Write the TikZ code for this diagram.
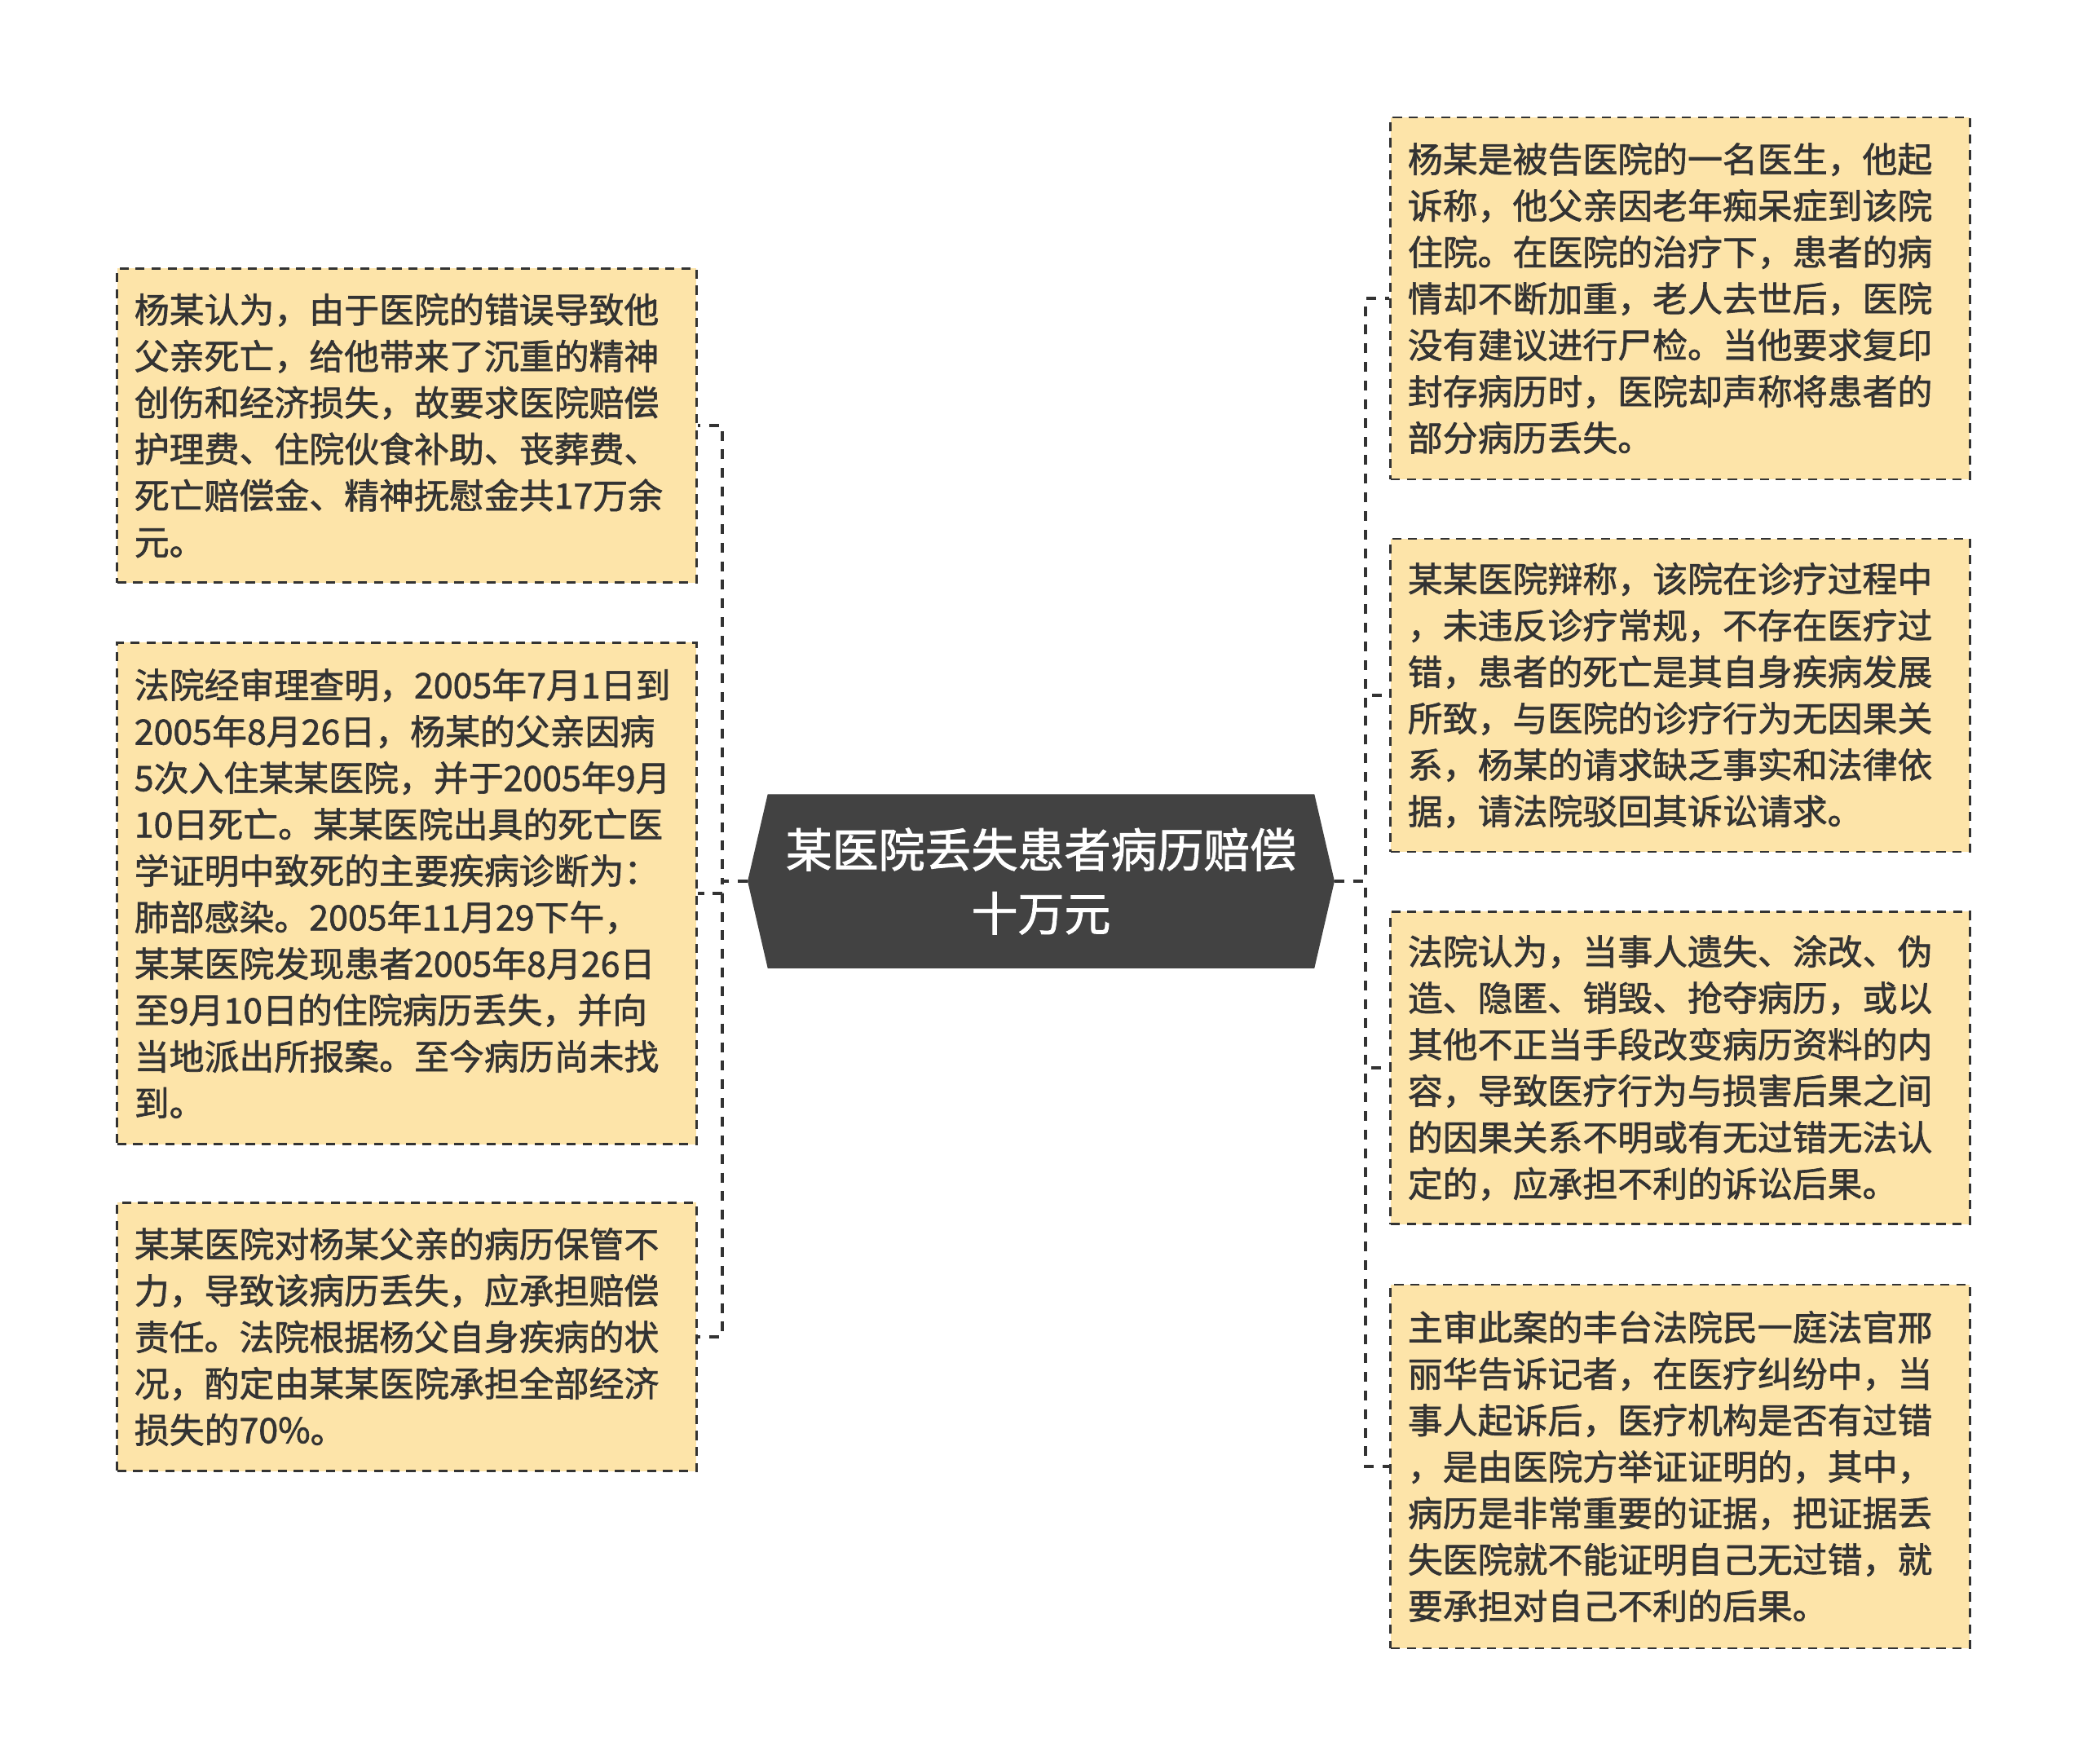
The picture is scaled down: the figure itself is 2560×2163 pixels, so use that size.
\documentclass[tikz,border=0pt]{standalone}
\usepackage{fontspec}
\setmainfont{Noto Sans CJK SC}[RawFeature={embolden=1.4}]
\usepackage{tikz}
\usetikzlibrary{positioning,shapes.symbols}
\definecolor{leaffill}{HTML}{FDE4A9}
\definecolor{inkgray}{HTML}{333333}
\definecolor{rootfill}{HTML}{424242}
\tikzset{
  rootbox/.style={shape=signal, signal to=west and east, signal pointer angle=154, draw=rootfill, fill=rootfill, text=white, minimum width=7.18cm, minimum height=2.12cm, align=center, font=\fontsize{16.2pt}{22.2pt}\selectfont},
  leafbox/.style={draw=inkgray, dashed, dash pattern=on 3.2pt off 2.4pt, line width=0.75pt, fill=leaffill, text=inkgray, inner xsep=0.21cm, inner ysep=0pt, text width=6.68cm, align=left, font=\fontsize{12.2pt}{16.2pt}\selectfont},
  link/.style={draw=inkgray, line width=1.1pt, dash pattern=on 3.4pt off 3.1pt}
}
\begin{document}
\begin{tikzpicture}[x=0.01cm, y=-0.01cm]
  \useasboundingbox[fill=white] (0,0) rectangle (2560,2163);
  % centre
  \node[rootbox] (root) at (1277,1081) {某医院丢失患者病历赔偿\\十万元};
  % left side
  \node[leafbox, minimum height=3.85cm] (lb1) at (499,522) {杨某认为，由于医院的错误导致他\\父亲死亡，给他带来了沉重的精神\\创伤和经济损失，故要求医院赔偿\\护理费、住院伙食补助、丧葬费、\\死亡赔偿金、精神抚慰金共17万余\\元。};
  \node[leafbox, minimum height=6.15cm] (lb2) at (499,1096) {法院经审理查明，2005年7月1日到\\2005年8月26日，杨某的父亲因病\\5次入住某某医院，并于2005年9月\\10日死亡。某某医院出具的死亡医\\学证明中致死的主要疾病诊断为：\\肺部感染。2005年11月29下午，\\某某医院发现患者2005年8月26日\\至9月10日的住院病历丢失，并向\\当地派出所报案。至今病历尚未找\\到。};
  \node[leafbox, minimum height=3.29cm] (lb3) at (499,1640) {某某医院对杨某父亲的病历保管不\\力，导致该病历丢失，应承担赔偿\\责任。法院根据杨父自身疾病的状\\况，酌定由某某医院承担全部经济\\损失的70\%。};
  % right side
  \node[leafbox, minimum height=4.44cm] (rb1) at (2061,366) {杨某是被告医院的一名医生，他起\\诉称，他父亲因老年痴呆症到该院\\住院。在医院的治疗下，患者的病\\情却不断加重，老人去世后，医院\\没有建议进行尸检。当他要求复印\\封存病历时，医院却声称将患者的\\部分病历丢失。};
  \node[leafbox, minimum height=3.84cm] (rb2) at (2061,853) {某某医院辩称，该院在诊疗过程中\\，未违反诊疗常规，不存在医疗过\\错，患者的死亡是其自身疾病发展\\所致，与医院的诊疗行为无因果关\\系，杨某的请求缺乏事实和法律依\\据，请法院驳回其诉讼请求。};
  \node[leafbox, minimum height=3.83cm] (rb3) at (2061,1310) {法院认为，当事人遗失、涂改、伪\\造、隐匿、销毁、抢夺病历，或以\\其他不正当手段改变病历资料的内\\容，导致医疗行为与损害后果之间\\的因果关系不明或有无过错无法认\\定的，应承担不利的诉讼后果。};
  \node[leafbox, minimum height=4.46cm] (rb4) at (2061,1799) {主审此案的丰台法院民一庭法官邢\\丽华告诉记者，在医疗纠纷中，当\\事人起诉后，医疗机构是否有过错\\，是由医院方举证证明的，其中，\\病历是非常重要的证据，把证据丢\\失医院就不能证明自己无过错，就\\要承担对自己不利的后果。};
  % connectors
  \foreach \leaf in {lb1,lb2,lb3}
    \draw[link] (root.west) -- ++(-31,0) |- (\leaf.east);
  \foreach \leaf in {rb1,rb2,rb3,rb4}
    \draw[link] (root.east) -- ++(38,0) |- (\leaf.west);
\end{tikzpicture}
\end{document}
